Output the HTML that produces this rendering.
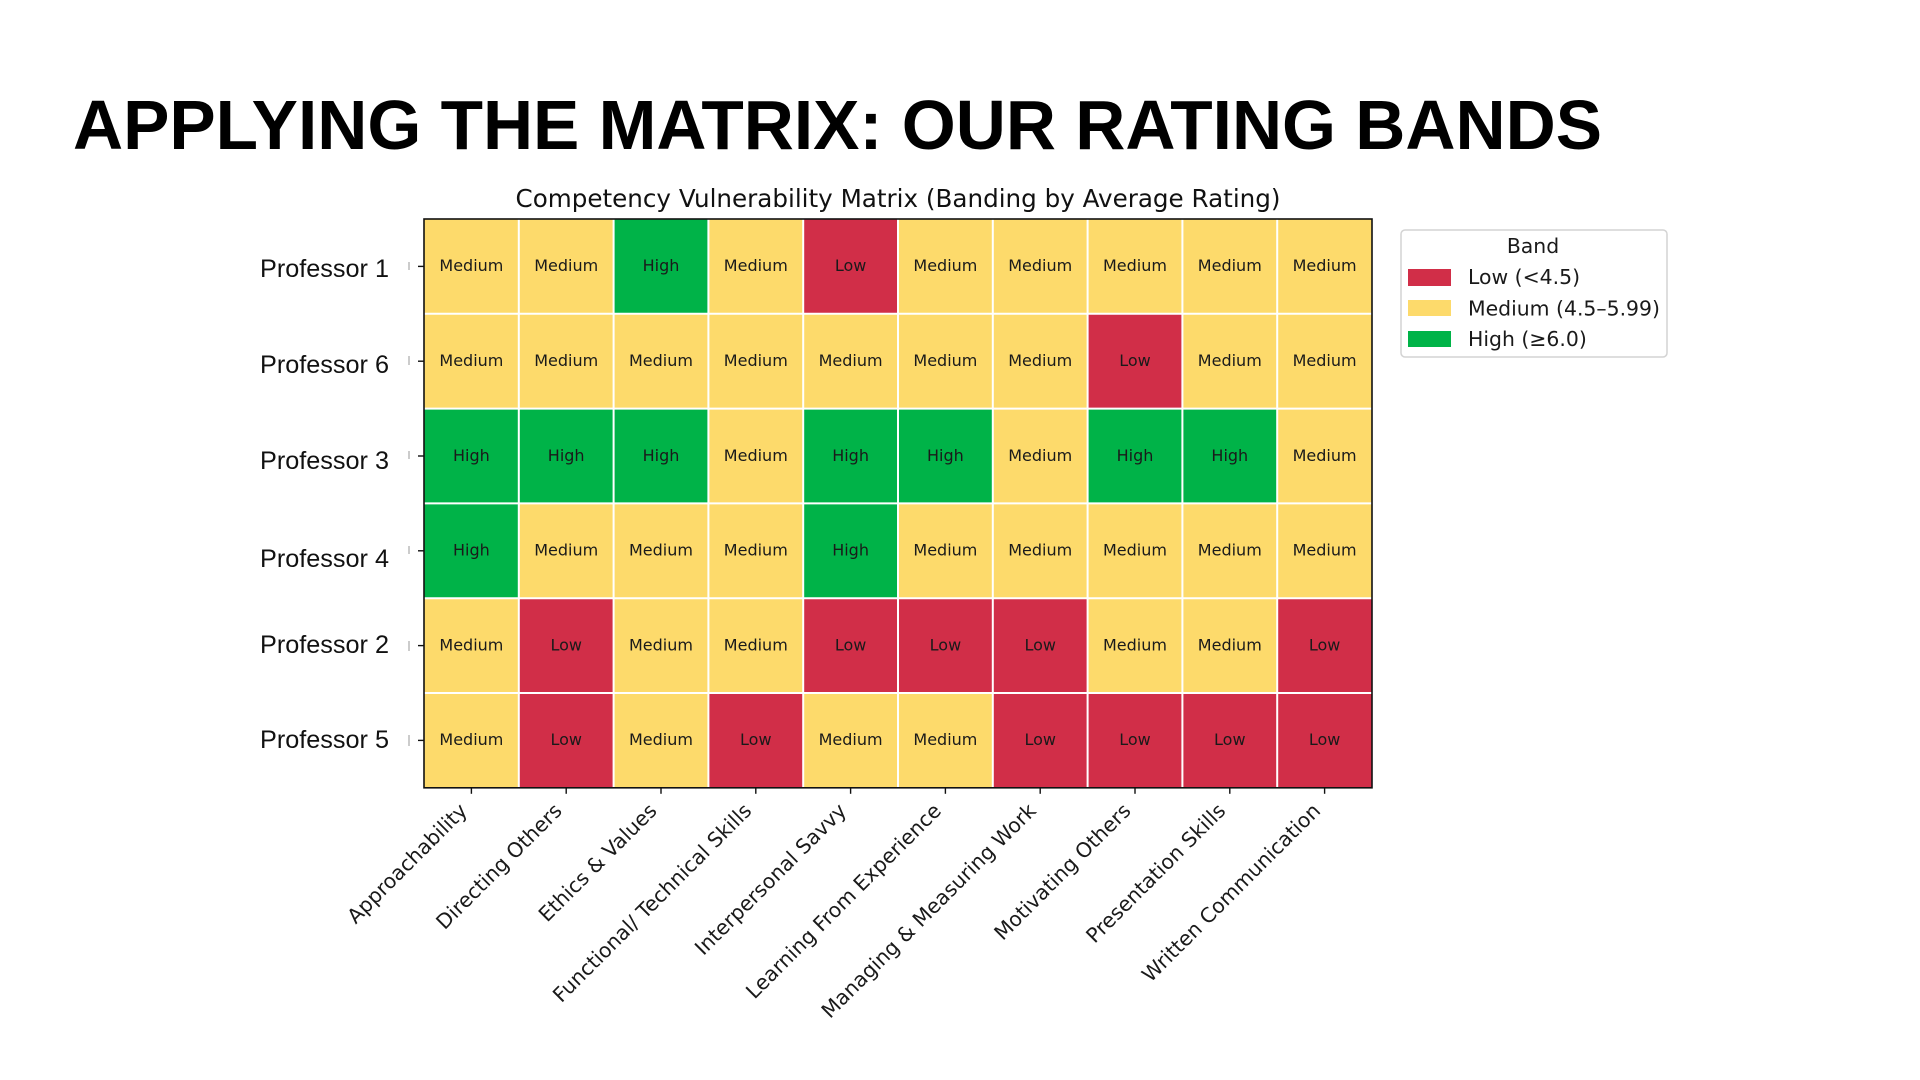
<!DOCTYPE html>
<html>
<head>
<meta charset="utf-8">
<style>
  html, body { margin: 0; padding: 0; background: #ffffff; }
  svg { display: block; }
</style>
</head>
<body>
<svg xmlns="http://www.w3.org/2000/svg" width="1920" height="1080" viewBox="0 0 1920 1080">
  <rect x="0" y="0" width="1920" height="1080" fill="#ffffff"/>

  <!-- Slide title -->
  <text x="73" y="149" font-family="Liberation Sans, Arial, sans-serif" font-weight="bold" font-size="70" fill="#000" textLength="1529" lengthAdjust="spacingAndGlyphs">APPLYING THE MATRIX: OUR RATING BANDS</text>

  <!-- Chart title -->
  <text x="898" y="207" text-anchor="middle" font-family="DejaVu Sans, Liberation Sans, sans-serif" font-size="24.5" fill="#111" textLength="765" lengthAdjust="spacingAndGlyphs">Competency Vulnerability Matrix (Banding by Average Rating)</text>

  <g id="cells" font-family="DejaVu Sans, Liberation Sans, sans-serif" font-size="16" fill="#1a1a1a" text-anchor="middle">
  </g>

  <!-- Y labels -->
  <g font-family="Liberation Sans, Arial, sans-serif" font-size="25" fill="#111">
    <text x="260" y="277" textLength="129" lengthAdjust="spacingAndGlyphs">Professor 1</text>
    <text x="260" y="373" textLength="129" lengthAdjust="spacingAndGlyphs">Professor 6</text>
    <text x="260" y="469" textLength="129" lengthAdjust="spacingAndGlyphs">Professor 3</text>
    <text x="260" y="567" textLength="129" lengthAdjust="spacingAndGlyphs">Professor 4</text>
    <text x="260" y="653" textLength="129" lengthAdjust="spacingAndGlyphs">Professor 2</text>
    <text x="260" y="748" textLength="129" lengthAdjust="spacingAndGlyphs">Professor 5</text>
  </g>

  <!-- remnant marks -->
  <g stroke="#aaa" stroke-width="1.2">
    <line x1="409" y1="262" x2="409" y2="270"/>
    <line x1="409" y1="356" x2="409" y2="365"/>
    <line x1="409" y1="451" x2="409" y2="459"/>
    <line x1="409" y1="546" x2="409" y2="554"/>
    <line x1="409" y1="641" x2="409" y2="651"/>
    <line x1="409" y1="735" x2="409" y2="746"/>
  </g>

  <!-- Legend -->
  <rect x="1401" y="230" width="266" height="127" rx="4" ry="4" fill="#fff" stroke="#d3d3d3" stroke-width="1.5"/>
  <g font-family="DejaVu Sans, Liberation Sans, sans-serif" font-size="20.4" fill="#1a1a1a">
    <text x="1533" y="253" text-anchor="middle">Band</text>
    <rect x="1408" y="269" width="43" height="17" fill="#D12E48"/>
    <text x="1468" y="284">Low (&lt;4.5)</text>
    <rect x="1408" y="300" width="43" height="16" fill="#FDDA6B"/>
    <text x="1468" y="315.5">Medium (4.5–5.99)</text>
    <rect x="1408" y="331" width="43" height="16" fill="#00B348"/>
    <text x="1468" y="346">High (≥6.0)</text>
  </g>
</svg>

<script>
(function(){
  var NS = "http://www.w3.org/2000/svg";
  var svg = document.querySelector("svg");
  var g = document.getElementById("cells");
  var data = [
    "MMHMLMMMMM",
    "MMMMMMMLMM",
    "HHHMHHMHHM",
    "HMMMHMMMMM",
    "MLMMLLLMML",
    "MLMLMMLLLL"
  ];
  var col = {L:"#D12E48", M:"#FDDA6B", H:"#00B348"};
  var lab = {L:"Low", M:"Medium", H:"High"};
  var x0 = 424, y0 = 219, w = 94.8, h = 94.8;
  var r, c;
  for (r = 0; r < 6; r++) {
    for (c = 0; c < 10; c++) {
      var k = data[r][c];
      var rect = document.createElementNS(NS, "rect");
      rect.setAttribute("x", x0 + c*w);
      rect.setAttribute("y", y0 + r*h);
      rect.setAttribute("width", w + 0.5);
      rect.setAttribute("height", h + 0.5);
      rect.setAttribute("fill", col[k]);
      g.appendChild(rect);
    }
  }
  for (c = 1; c < 10; c++) {
    var l = document.createElementNS(NS, "line");
    l.setAttribute("x1", x0 + c*w); l.setAttribute("x2", x0 + c*w);
    l.setAttribute("y1", y0); l.setAttribute("y2", y0 + 6*h);
    l.setAttribute("stroke", "#ffffff"); l.setAttribute("stroke-width", "2");
    g.appendChild(l);
  }
  for (r = 1; r < 6; r++) {
    var l2 = document.createElementNS(NS, "line");
    l2.setAttribute("y1", y0 + r*h); l2.setAttribute("y2", y0 + r*h);
    l2.setAttribute("x1", x0); l2.setAttribute("x2", x0 + 10*w);
    l2.setAttribute("stroke", "#ffffff"); l2.setAttribute("stroke-width", "2");
    g.appendChild(l2);
  }
  for (r = 0; r < 6; r++) {
    for (c = 0; c < 10; c++) {
      var t = document.createElementNS(NS, "text");
      t.setAttribute("x", x0 + (c+0.5)*w);
      t.setAttribute("y", y0 + (r+0.5)*h + 4.8);
      t.textContent = lab[data[r][c]];
      g.appendChild(t);
    }
  }
  var b = document.createElementNS(NS, "rect");
  b.setAttribute("x", x0); b.setAttribute("y", y0);
  b.setAttribute("width", 10*w); b.setAttribute("height", 6*h);
  b.setAttribute("fill", "none"); b.setAttribute("stroke", "#111"); b.setAttribute("stroke-width", "1.6");
  svg.appendChild(b);
  for (r = 0; r < 6; r++) {
    var yt = y0 + (r+0.5)*h;
    var tl = document.createElementNS(NS, "line");
    tl.setAttribute("x1", 418); tl.setAttribute("x2", x0);
    tl.setAttribute("y1", yt); tl.setAttribute("y2", yt);
    tl.setAttribute("stroke", "#111"); tl.setAttribute("stroke-width", "1.4");
    svg.appendChild(tl);
  }
  var xl = ["Approachability","Directing Others","Ethics & Values","Functional/ Technical Skills","Interpersonal Savvy","Learning From Experience","Managing & Measuring Work","Motivating Others","Presentation Skills","Written Communication"];
  for (c = 0; c < 10; c++) {
    var xt = x0 + (c+0.5)*w;
    var tk = document.createElementNS(NS, "line");
    tk.setAttribute("x1", xt); tk.setAttribute("x2", xt);
    tk.setAttribute("y1", y0 + 6*h); tk.setAttribute("y2", y0 + 6*h + 6);
    tk.setAttribute("stroke", "#111"); tk.setAttribute("stroke-width", "1.4");
    svg.appendChild(tk);
    var px = xt - 3, py = 812;
    var tx = document.createElementNS(NS, "text");
    tx.setAttribute("x", px); tx.setAttribute("y", py);
    tx.setAttribute("text-anchor", "end");
    tx.setAttribute("font-family", "DejaVu Sans, Liberation Sans, sans-serif");
    tx.setAttribute("font-size", "20.4");
    tx.setAttribute("fill", "#1a1a1a");
    tx.setAttribute("transform", "rotate(-45 " + px + " " + py + ")");
    tx.textContent = xl[c];
    svg.appendChild(tx);
  }
})();
</script>
</body>
</html>
